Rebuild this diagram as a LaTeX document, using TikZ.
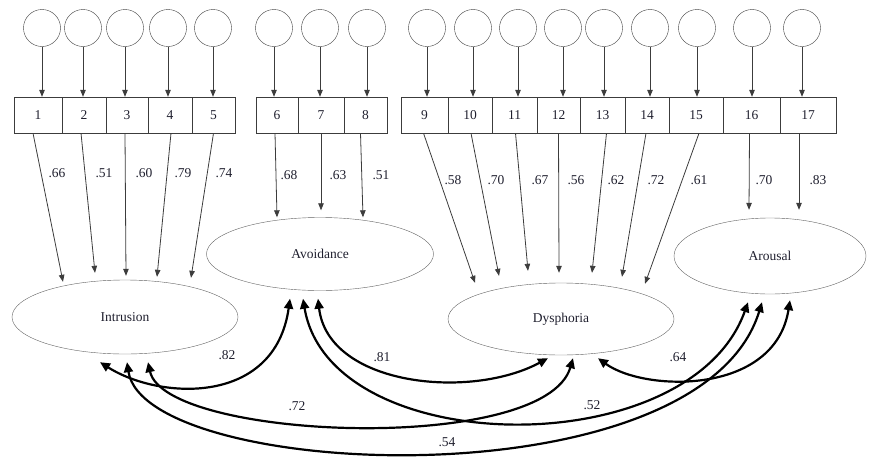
\documentclass[tikz,border=0pt]{standalone}
\usepackage{fontspec}
\setmainfont{Liberation Serif}
\usetikzlibrary{arrows.meta,shapes.geometric}
\definecolor{semgray}{HTML}{3C3C3C}
\definecolor{semink}{HTML}{1F1F2E}

\begin{document}
\begin{tikzpicture}[x=1pt, y=-1pt, font=\fontsize{13.5}{16}\selectfont, text=semink,
  errc/.style={draw=semgray, circle, minimum size=37pt, inner sep=0pt},
  itembox/.style={draw=semgray, rectangle, minimum height=36pt, inner sep=0pt},
  factor/.style={draw=semgray!80, ellipse, inner sep=0pt},
  load/.style={-{Triangle[length=7pt,width=5.5pt]}, semgray, line width=0.8pt},
  cov/.style={{Triangle[length=10pt,width=9pt]}-{Triangle[length=10pt,width=9pt]}, line width=2.2pt}]
  \useasboundingbox (0,0) rectangle (869,463);

  % latent factors
  \node[factor, minimum width=226pt, minimum height=74pt] (intr) at (125,317) {Intrusion};
  \node[factor, minimum width=227pt, minimum height=73pt] (avoid) at (320,254) {Avoidance};
  \node[factor, minimum width=226pt, minimum height=72pt] (dysph) at (561,319) {Dysphoria};
  \node[factor, minimum width=192pt, minimum height=76pt] (arous) at (770,256) {Arousal};

  % items with their error terms
  \foreach \n/\bl/\br/\cx in {1/14/62/42, 2/62/106/83, 3/106/148/125, 4/148/192/168,
      5/192/235/213, 6/256/298/274, 7/298/344/320, 8/344/387/367, 9/401/448/427,
      10/448/492/473, 11/492/537/518, 12/537/580/563, 13/580/625/604, 14/625/669/650,
      15/669/723/697, 16/723/780/752, 17/780/836/802} {
    \pgfmathsetmacro\bw{\br-\bl}
    \pgfmathsetmacro\bc{(\bl+\br)/2}
    \node[itembox, minimum width=\bw pt] (b\n) at (\bc,115) {\n};
    \node[errc] (e\n) at (\cx,28) {};
    \draw[load] (e\n) -- (e\n |- b\n.north);
  }

  % loadings
  \foreach \n/\f/\sx/\tx/\ty/\v/\lx/\ly in {
      1/intr/-5/-62/2/.66/57/173, 2/intr/-3/-30/-7/.51/104/173,
      3/intr/-2/1/-4/.60/144/173, 4/intr/1/32/-3/.79/183/173,
      5/intr/0/66/-2/.74/224/173,
      6/avoid/-2/-43/0/.68/289/175, 7/avoid/0/1/-7/.63/338/175,
      8/avoid/-5/43/0/.51/381/175,
      9/dysph/-1/-86/0/.58/453/180, 10/dysph/1/-62/-7/.70/496/180,
      11/dysph/1/-33/-12/.67/540/180, 12/dysph/0/-2/-10/.56/576/180,
      13/dysph/4/31/-10/.62/616/180, 14/dysph/-1/61/-6/.72/656/180,
      15/dysph/3/84/1/.61/699/180,
      16/arous/-2/-21/-8/.70/764/180, 17/arous/-9/29/-8/.83/818/180} {
    \draw[load] ([shift={(\sx,0)}]b\n.south) -- ([shift={(\tx,\ty)}]\f.north);
    \node (l\n) at (\lx,\ly) {\v};
  }

  % factor correlations
  \draw[cov] ([shift={(-25,8)}]intr.south) .. controls +(60,38) and +(-15,107) .. ([shift={(-30,8)}]avoid.south);
  \draw[cov] ([shift={(-2,8)}]avoid.south) .. controls +(10,87) and +(-78,42) .. ([shift={(-13,3)}]dysph.south);
  \draw[cov] ([shift={(-17,8)}]avoid.south) .. controls +(27,162) and +(-58,163) .. ([shift={(-22,8)}]arous.south);
  \draw[cov] ([shift={(2,8)}]intr.south) .. controls +(18,118) and +(-62,203) .. ([shift={(-8,8)}]arous.south);
  \draw[cov] ([shift={(23,8)}]intr.south) .. controls +(17,78) and +(-28,97) .. ([shift={(12,3)}]dysph.south);
  \draw[cov] ([shift={(37,3)}]dysph.south) .. controls +(47,34) and +(-15,95) .. ([shift={(20,6)}]arous.south);

  \node (c82) at (227,355) {.82};
  \node (c81) at (382,357) {.81};
  \node (c72) at (297,406) {.72};
  \node (c52) at (592,405) {.52};
  \node (c54) at (447,442) {.54};
  \node (c64) at (678,357) {.64};
\end{tikzpicture}
\end{document}
